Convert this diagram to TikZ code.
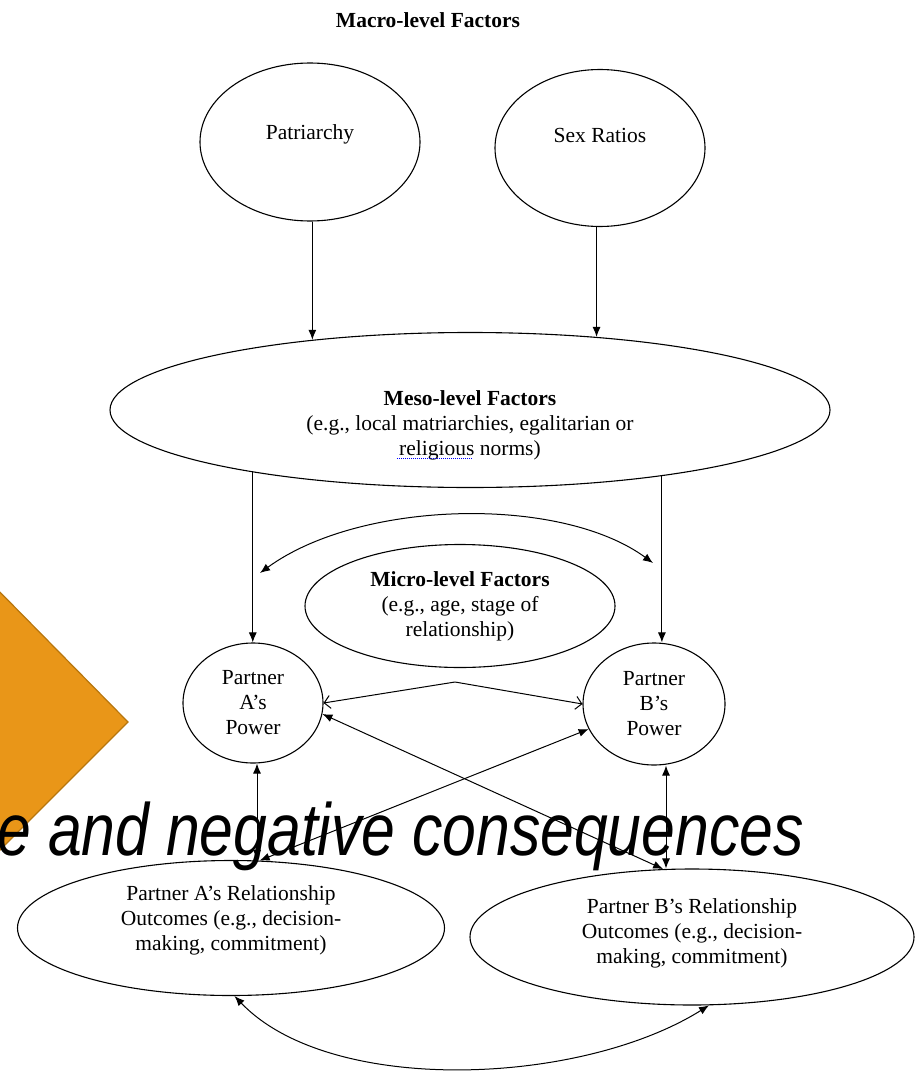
\documentclass[tikz,border=0pt]{standalone}
\usepackage{fontspec}
\setmainfont{Liberation Serif}
\newfontfamily\narrowsans[FakeStretch=0.82]{Liberation Sans}
\usetikzlibrary{shapes.geometric,arrows.meta}
\definecolor{diamondfill}{RGB}{233,150,24}
\definecolor{diamondedge}{RGB}{183,118,14}
\tikzset{
  oval/.style={draw, ellipse, line width=1.1pt, inner sep=0pt, align=center},
  arr/.style={-{Latex[length=10pt,width=8pt]}, line width=1pt},
  twoway/.style={{Latex[length=10pt,width=8pt]}-{Latex[length=10pt,width=8pt]}, line width=1pt},
  barbs/.style={{Straight Barb[length=6pt,width=13pt]}-{Straight Barb[length=6pt,width=13pt]}, line width=1pt},
  squiggle/.style={blue, densely dotted, line width=1pt}
}
\begin{document}
\begin{tikzpicture}[x=1pt,y=-1pt,font=\fontsize{21.5}{25}\selectfont]
\clip (0,0) rectangle (918,1078);
\fill[diamondfill, draw=diamondedge, line width=1.2pt] (-10,582) -- (128,722) -- (-10,860) -- cycle;

\node[font={\fontsize{21.5}{25}\selectfont\bfseries}] (macro) at (428,20) {Macro-level Factors};
\node[oval, minimum width=220pt, minimum height=158pt, text depth=20pt] (patr) at (310,142) {Patriarchy};
\node[oval, minimum width=210pt, minimum height=157pt, text depth=26pt] (sexr) at (600,148) {Sex Ratios};
\node[oval, minimum width=720pt, minimum height=155pt, text height=95pt] (meso) at (470,410)
  {\textbf{Meso-level Factors}\\(e.g., local matriarchies, egalitarian or\\religious norms)};
\node[oval, minimum width=310pt, minimum height=123pt] (micro) at (460,606)
  {\textbf{Micro-level Factors}\\(e.g., age, stage of\\relationship)};
\node[oval, minimum width=140pt, minimum height=120pt] (powA) at (253,703) {Partner\\A’s\\Power};
\node[oval, minimum width=142pt, minimum height=122pt] (powB) at (654,704) {Partner\\B’s\\Power};
\node[oval, minimum width=427pt, minimum height=135pt, text depth=19pt] (outA) at (231,928)
  {Partner A’s Relationship\\Outcomes (e.g., decision-\\making, commitment)};
\node[oval, minimum width=444pt, minimum height=136pt, text depth=11pt] (outB) at (692,937)
  {Partner B’s Relationship\\Outcomes (e.g., decision-\\making, commitment)};
\draw[squiggle] (397,458) -- (472,458);

\draw[arr] (meso.156 |- patr.south) -- (meso.156);
\draw[arr] (meso.30 |- sexr.south) -- (meso.30);
\draw[arr] (meso.196) -- (meso.196 |- powA.north);
\draw[arr] (meso.341) -- (meso.341 |- powB.north);

\coordinate (arcL) at (260,573);
\coordinate (arcR) at (653,563);
\draw[twoway] (arcL) .. controls (360,500) and (560,495) .. (arcR);

\coordinate (peak) at (455,682);
\draw[barbs] (powA.east) -- (peak) -- (powB.west);
\draw[twoway] (powA.-9) -- (outB.113);
\draw[twoway] (outA.67) -- (powB.201);
\draw[twoway] ([xshift=4pt]powA.south) -- ([xshift=4pt]powA.south |- outA.north);
\draw[twoway] ([xshift=12pt]powB.south) -- ([xshift=12pt]powB.south |- outB.north);
\draw[twoway] (outA.273) .. controls (330,1096) and (580,1086) .. (outB.-76);

\node[anchor=base east, inner sep=0pt, font=\narrowsans\itshape\fontsize{74}{80}\selectfont] (tagline) at (804,855)
  {e and negative consequences};
\end{tikzpicture}
\end{document}
